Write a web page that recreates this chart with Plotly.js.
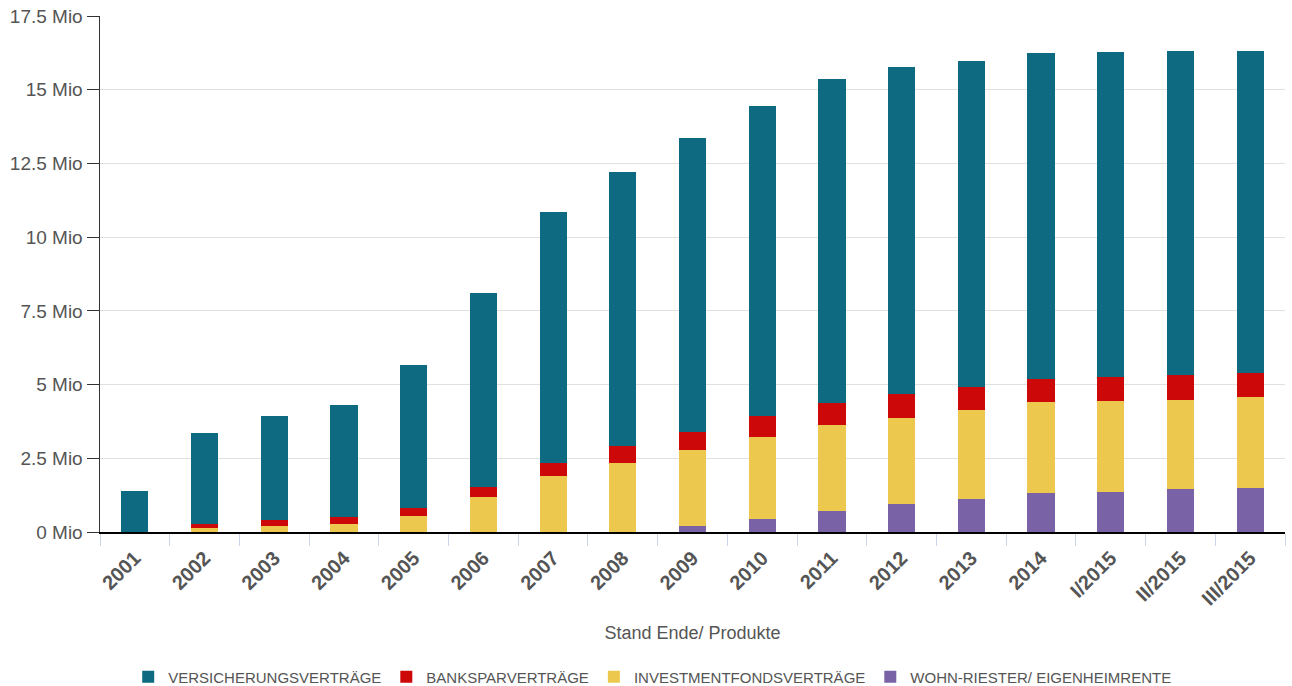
<!DOCTYPE html>
<html>
<head>
<meta charset="utf-8">
<script src="https://cdn.plot.ly/plotly-3.0.1.min.js"></script>
<style>html,body{margin:0;padding:0;background:#fff;}#chart{width:1292px;height:686px;}</style>
</head>
<body>
<div id="chart"></div>
<script>
const categories = ["2001","2002","2003","2004","2005","2006","2007","2008","2009","2010","2011","2012","2013","2014","I/2015","II/2015","III/2015"];
// values in Mio contracts
const versicherung = [1.38,3.10,3.55,3.80,4.85,6.58,8.51,9.30,9.95,10.53,11.00,11.08,11.05,11.05,11.03,11.01,10.95];
const banksparen   = [0,0.13,0.18,0.23,0.27,0.35,0.45,0.58,0.62,0.70,0.74,0.80,0.79,0.78,0.81,0.83,0.80];
const investment   = [0,0.14,0.22,0.27,0.53,1.19,1.89,2.34,2.59,2.77,2.91,2.94,3.03,3.09,3.07,3.03,3.08];
const wohnRiester  = [0,0,0,0,0,0,0,0,0.19,0.45,0.71,0.94,1.11,1.32,1.37,1.46,1.50];
const seriesNames = ["VERSICHERUNGSVERTRÄGE","BANKSPARVERTRÄGE","INVESTMENTFONDSVERTRÄGE","WOHN-RIESTER/ EIGENHEIMRENTE"];
const yTicks = [0,2.5,5,7.5,10,12.5,15,17.5];

const colors = ["rgb(14,106,128)","rgb(205,8,8)","rgb(236,200,78)","rgb(122,98,167)"];
const data = [
  {type:"bar", name:seriesNames[3], x:categories, y:wohnRiester, marker:{color:colors[3]}},
  {type:"bar", name:seriesNames[2], x:categories, y:investment, marker:{color:colors[2]}},
  {type:"bar", name:seriesNames[1], x:categories, y:banksparen, marker:{color:colors[1]}},
  {type:"bar", name:seriesNames[0], x:categories, y:versicherung, marker:{color:colors[0]}}
];
const layout = {
  width:1292, height:686,
  margin:{l:100, r:7, t:16, b:154},
  paper_bgcolor:"#fff", plot_bgcolor:"#fff",
  barmode:"stack", bargap:0.61,
  font:{family:"Liberation Sans, Arial, sans-serif", color:"#555"},
  xaxis:{
    type:"category",
    tickangle:-45,
    tickfont:{size:20, color:"#555", weight:"bold"},
    ticklabelstandoff:5,
    showline:true, linecolor:"#000", linewidth:1.5,
    ticks:"outside", tickson:"boundaries", ticklen:12, tickcolor:"#ccd6eb",
    showgrid:false,
    title:{text:"Stand Ende/ Produkte", font:{size:18, color:"#555"}, standoff:18},
    automargin:false
  },
  yaxis:{
    range:[0,17.5],
    tickvals:yTicks,
    ticktext:yTicks.map(v=>v+" Mio"),
    tickfont:{size:19, color:"#555"},
    showline:true, linecolor:"#333", linewidth:1.5,
    ticks:"outside", ticklen:12, tickcolor:"#333",
    showgrid:true, gridcolor:"#e0e0e0", gridwidth:1,
    zeroline:false,
    automargin:false
  },
  legend:{
    orientation:"h", traceorder:"reversed",
    x:0.466, xanchor:"center", xref:"paper",
    y:0.013, yanchor:"middle", yref:"container",
    font:{size:15, color:"#555"},
    itemwidth:30, tracegroupgap:0
  },
  showlegend:true
};
Plotly.newPlot("chart", data, layout, {displayModeBar:false, staticPlot:true});
</script>
</body>
</html>
